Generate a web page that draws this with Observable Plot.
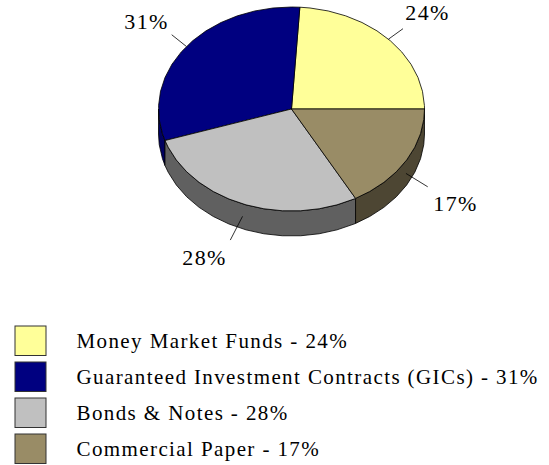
<!DOCTYPE html>
<html>
<head>
<meta charset="utf-8">
<script src="https://cdn.jsdelivr.net/npm/d3@7"></script>
<script src="https://cdn.jsdelivr.net/npm/@observablehq/plot@0.6"></script>
<style>html,body{margin:0;padding:0;background:#fff}svg{display:block}</style>
</head>
<body>
<div id="chart"></div>
<script>
// Data
const categories = ["Money Market Funds", "Guaranteed Investment Contracts (GICs)", "Bonds & Notes", "Commercial Paper"];
const shares = [24, 31, 28, 17];
const topColors = ["#ffff99", "#000080", "#c0c0c0", "#998c66"];
const wallColors = ["#808050", "#000060", "#606060", "#4d4633"];

// Layout of the pie
const W = 549, H = 465;
const cx = 291, cy = 108.5, rx = 133, ry = 102, depth = 25, step = 8;
const startAngle = 90;
const leader = [
  {to: 1.15, wall: 0, wallEnd: 0, lx: 427, ly: 12},
  {to: 1.14, wall: 0, wallEnd: -3, lx: 146, ly: 21},
  {to: 1.25, wall: 12.5, wallEnd: 12.5, lx: 204, ly: 257},
  {to: 1.19, wall: 12.5, wallEnd: 16, lx: 455, ly: 203}
];

const rad = d => d * Math.PI / 180;
const px = (a, k = 1) => cx + k * rx * Math.sin(rad(a));
const py = (a, k = 1) => cy - k * ry * Math.cos(rad(a));

// Angles run clockwise from north; slices run counterclockwise from the start angle
let acc = startAngle;
const slices = categories.map((name, i) => {
  const a1 = acc, a0 = acc - shares[i] * 3.6;
  acc = a0;
  return {name, share: shares[i], i, a0, a1, mid: (a0 + a1) / 2};
});
function arc(a0, a1) {
  const out = [a0];
  for (let a = Math.ceil(a0 / step) * step; a < a1; a += step) if (a > a0) out.push(a);
  out.push(a1);
  return out;
}
const topPoints = s => [[cx, cy], ...arc(s.a0, s.a1).map(a => [px(a), py(a)]), [cx, cy]];

// Side wall: the part of a slice facing the viewer
function wallPoints(s) {
  const lo = Math.max(s.a0, -270), hi = Math.min(s.a1, -90);
  if (lo >= hi) return null;
  const as = arc(lo, hi);
  return [...as.map(a => [px(a), py(a)]), ...as.slice().reverse().map(a => [px(a), py(a) + depth]), [px(lo), py(lo)]];
}

const marks = [];
slices.forEach(s => {
  const w = wallPoints(s);
  if (w) marks.push(Plot.line(w, {x: d => d[0], y: d => d[1], curve: "linear", fill: wallColors[s.i], stroke: "#000", strokeWidth: 0.8, strokeLinejoin: "round"}));
});
slices.forEach(s => {
  marks.push(Plot.line(topPoints(s), {x: d => d[0], y: d => d[1], curve: "linear", fill: topColors[s.i], stroke: "#000", strokeWidth: 0.8, strokeLinejoin: "round"}));
});

// Leader lines and percentage labels
const leaders = slices.map(s => {
  const l = leader[s.i];
  return {x1: px(s.mid), y1: py(s.mid) + l.wall, x2: px(s.mid, l.to), y2: py(s.mid, l.to) + l.wallEnd, lx: l.lx, ly: l.ly, label: s.share + "%"};
});
marks.push(Plot.link(leaders, {x1: "x1", y1: "y1", x2: "x2", y2: "y2", stroke: "#000", strokeWidth: 0.8}));
marks.push(Plot.text(leaders, {x: "lx", y: "ly", text: "label", fontSize: 22, fill: "#000", textAnchor: "middle", lineAnchor: "middle"}));

// Legend
const legendX = 15, legendW = 31, legendY = 326, legendH = 29.5, legendPitch = 36, legendTextX = 76;
const legend = slices.map(s => ({
  x1: legendX, x2: legendX + legendW,
  y1: legendY + s.i * legendPitch, y2: legendY + s.i * legendPitch + legendH,
  ty: legendY + s.i * legendPitch + 15,
  fill: topColors[s.i],
  text: s.name + " - " + s.share + "%"
}));
legend.forEach(d => marks.push(Plot.rect([d], {x1: "x1", x2: "x2", y1: "y1", y2: "y2", fill: d.fill, stroke: "#333", strokeWidth: 1})));
marks.push(Plot.text(legend, {x: legendTextX, y: "ty", text: "text", fontSize: 21, fill: "#000", textAnchor: "start", lineAnchor: "middle"}));

const svg = Plot.plot({
  width: W, height: H,
  margin: 0,
  x: {domain: [0, W], range: [0, W], axis: null},
  y: {domain: [0, H], range: [0, H], axis: null},
  style: {fontFamily: "'Liberation Serif', serif", background: "#fff", overflow: "visible", letterSpacing: "1.4px"},
  marks
});
document.getElementById("chart").appendChild(svg);
</script>
</body>
</html>
